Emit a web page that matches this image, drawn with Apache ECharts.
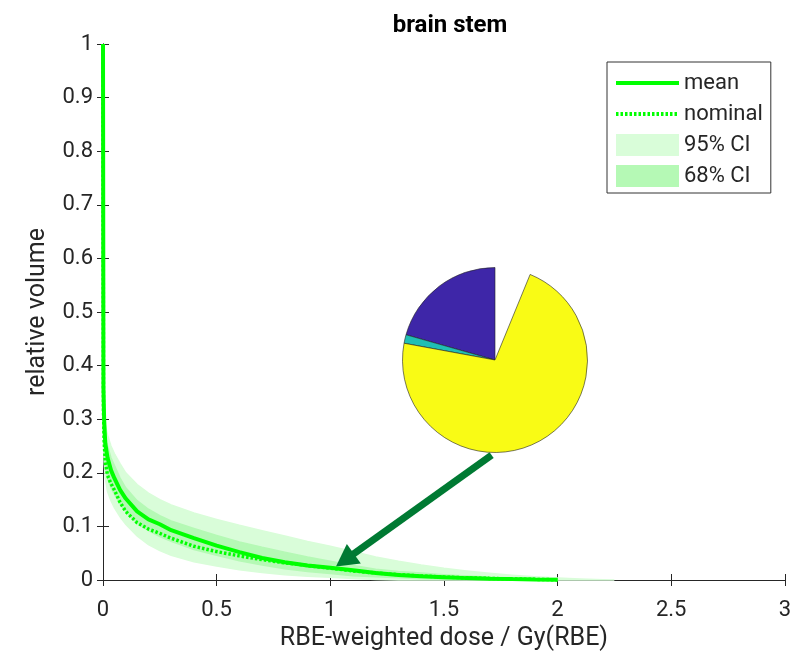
<!DOCTYPE html>
<html>
<head>
<meta charset="utf-8">
<script src="https://cdn.jsdelivr.net/npm/echarts@6/dist/echarts.min.js"></script>
<style>
  html, body { margin: 0; padding: 0; background: #fff; }
  #chart { width: 794px; height: 659px; }
</style>
</head>
<body>
<div id="chart"></div>
<script>
// Dose grid (Gy(RBE)) shared by all curves and bands
const dose = [0, 0.002, 0.005, 0.01, 0.02, 0.035, 0.05, 0.075, 0.1, 0.15, 0.2, 0.25, 0.3,
  0.4, 0.5, 0.6, 0.7, 0.8, 0.9, 1.0, 1.1, 1.2, 1.3, 1.4, 1.5, 1.6, 1.7, 1.8, 1.9, 2.0,
  2.1, 2.2, 2.25];

// Mean DVH (relative volume)
const meanDvh = [1.0, 0.36, 0.30, 0.255, 0.228, 0.205, 0.19, 0.168, 0.152, 0.128, 0.113, 0.104, 0.093,
  0.078, 0.064, 0.052, 0.041, 0.033, 0.027, 0.023, 0.018, 0.013, 0.0095, 0.007, 0.005, 0.0035, 0.0025,
  0.0017, 0.001, 0.0004, null, null, null];

// Nominal DVH
const nominalDvh = [1.0, 0.32, 0.26, 0.22, 0.195, 0.18, 0.168, 0.145, 0.128, 0.107, 0.095, 0.087, 0.078,
  0.063, 0.053, 0.045, 0.038, 0.032, 0.027, 0.022, 0.017, 0.013, 0.010, 0.0075, 0.0055, 0.004, 0.003,
  0.002, 0.0012, 0.0004, null, null, null];

// 95% confidence interval
const lo95 = [null, 0.26, 0.22, 0.19, 0.165, 0.148, 0.135, 0.118, 0.104, 0.082, 0.066, 0.055, 0.046,
  0.034, 0.026, 0.019, 0.014, 0.010, 0.007, 0.005, 0.003, 0.001, 0, 0, 0, 0, 0, 0, 0, 0, 0, 0, 0];
const hi95 = [null, 0.33, 0.31, 0.29, 0.27, 0.25, 0.236, 0.217, 0.2, 0.178, 0.162, 0.15, 0.14,
  0.125, 0.113, 0.102, 0.092, 0.082, 0.072, 0.063, 0.053, 0.043, 0.035, 0.028, 0.022, 0.017, 0.0125,
  0.0088, 0.006, 0.0038, 0.002, 0.0006, 0];

// 68% confidence interval
const lo68 = [null, 0.28, 0.24, 0.215, 0.19, 0.172, 0.16, 0.142, 0.128, 0.106, 0.092, 0.081, 0.072,
  0.057, 0.046, 0.036, 0.028, 0.021, 0.016, 0.012, 0.008, 0.006, 0.004, 0.0025, 0.0015, 0.001, 0.0005,
  0, 0, 0, null, null, null];
const hi68 = [null, 0.32, 0.295, 0.27, 0.25, 0.228, 0.214, 0.19, 0.172, 0.148, 0.132, 0.12, 0.11,
  0.096, 0.083, 0.071, 0.061, 0.052, 0.043, 0.035, 0.027, 0.020, 0.016, 0.013, 0.010, 0.0075, 0.0055,
  0.0035, 0.002, 0.0003, null, null, null];

// Inset pie: fractions of the structure per slice (remainder left open)
const pieNames = ['slice 1', 'slice 2', 'slice 3'];
const pieValues = [0.206, 0.015, 0.717];
const pieColors = ['#3e26a8', '#1fbfb4', '#f9fb15'];

// Axis ticks
const xTicks = { min: 0, max: 3, interval: 0.5 };
const yTicks = { min: 0, max: 1, interval: 0.1 };

// Annotation arrow (data coordinates): from the inset towards the curve
const arrowFrom = [1.71, 0.233];
const arrowTo = [1.025, 0.025];

const axisColor = '#262626';
const fontFamily = 'Roboto, "Noto Sans", sans-serif';

function bandRenderer(lo, hi, color) {
  return function (params, api) {
    if (params.dataIndex !== 0) return null;
    const upper = [], lower = [];
    for (let i = 0; i < dose.length; i++) {
      if (lo[i] == null || hi[i] == null) continue;
      upper.push(api.coord([dose[i], hi[i]]));
      lower.push(api.coord([dose[i], lo[i]]));
    }
    return {
      type: 'polygon',
      shape: { points: upper.concat(lower.reverse()) },
      style: { fill: color, stroke: color, lineWidth: 1.5 }
    };
  };
}

function arrowRenderer(params, api) {
  const p1 = api.coord(arrowFrom);
  const p2 = api.coord(arrowTo);
  const dx = p2[0] - p1[0], dy = p2[1] - p1[1];
  const len = Math.sqrt(dx * dx + dy * dy);
  const ux = dx / len, uy = dy / len;
  const headLen = 22, headHalf = 12;
  const bx = p2[0] - ux * headLen, by = p2[1] - uy * headLen;
  const color = '#007a33';
  return {
    type: 'group',
    children: [
      { type: 'line', shape: { x1: p1[0], y1: p1[1], x2: bx + ux * 2, y2: by + uy * 2 },
        style: { stroke: color, lineWidth: 7 } },
      { type: 'polygon',
        shape: { points: [[p2[0], p2[1]], [bx - uy * headHalf, by + ux * headHalf], [bx + uy * headHalf, by - ux * headHalf]] },
        style: { fill: color } }
    ]
  };
}

const chart = echarts.init(document.getElementById('chart'), null, { renderer: 'canvas' });

// Legend entries for lines: line only, no marker
const noMarker = { color: 'rgba(0,0,0,0)', borderWidth: 0, opacity: 0 };

const option = {
  animation: false,
  backgroundColor: '#ffffff',
  title: {
    text: 'brain stem',
    left: 445,
    top: 9,
    textAlign: 'center',
    textStyle: { fontFamily: fontFamily, fontSize: 24, fontWeight: 'bold', color: '#000' }
  },
  grid: { left: 103, right: 8, top: 44, bottom: 79, containLabel: false },
  legend: {
    orient: 'vertical',
    left: 607,
    top: 62,
    padding: [10, 8, 6, 7],
    itemGap: 9,
    itemWidth: 63,
    itemHeight: 22,
    backgroundColor: '#ffffff',
    borderColor: '#333333',
    borderWidth: 1,
    selectedMode: false,
    textStyle: { fontFamily: fontFamily, fontSize: 22, color: axisColor },
    data: [
      { name: 'mean', itemStyle: noMarker, lineStyle: { width: 4 } },
      { name: 'nominal', itemStyle: noMarker, lineStyle: { width: 4 } },
      { name: '95% CI', icon: 'rect' },
      { name: '68% CI', icon: 'rect' }
    ]
  },
  xAxis: [
    {
      type: 'value', min: xTicks.min, max: xTicks.max, interval: xTicks.interval,
      name: 'RBE-weighted dose / Gy(RBE)', nameLocation: 'middle', nameGap: 46,
      nameTextStyle: { fontFamily: fontFamily, fontSize: 25, color: axisColor },
      axisLine: { show: true, lineStyle: { color: axisColor, width: 1 } },
      axisTick: { show: true, inside: true, length: 6, lineStyle: { color: axisColor } },
      axisLabel: { margin: 19, fontFamily: fontFamily, fontSize: 22, color: axisColor },
      splitLine: { show: false }
    },
    {
      type: 'value', position: 'top', min: xTicks.min, max: xTicks.max, interval: xTicks.interval,
      axisLine: { show: true, lineStyle: { color: axisColor, width: 1 } },
      axisTick: { show: true, inside: true, length: 6, lineStyle: { color: axisColor } },
      axisLabel: { show: false }, splitLine: { show: false }
    }
  ],
  yAxis: [
    {
      type: 'value', min: yTicks.min, max: yTicks.max, interval: yTicks.interval,
      name: 'relative volume', nameLocation: 'middle', nameGap: 53,
      nameTextStyle: { fontFamily: fontFamily, fontSize: 25, color: axisColor },
      axisLine: { show: true, lineStyle: { color: axisColor, width: 1 } },
      axisTick: { show: true, inside: true, length: 6, lineStyle: { color: axisColor } },
      axisLabel: { margin: 10, fontFamily: fontFamily, fontSize: 22, color: axisColor },
      splitLine: { show: false }
    },
    {
      type: 'value', position: 'right', min: yTicks.min, max: yTicks.max, interval: yTicks.interval,
      axisLine: { show: true, lineStyle: { color: axisColor, width: 1 } },
      axisTick: { show: true, inside: true, length: 6, lineStyle: { color: axisColor } },
      axisLabel: { show: false }, splitLine: { show: false }
    }
  ],
  series: [
    {
      name: '95% CI', type: 'custom', silent: true,
      itemStyle: { color: '#d9fdd9' },
      renderItem: bandRenderer(lo95, hi95, '#d9fdd9'),
      encode: { x: 0, y: [1, 2] },
      data: dose.map((d, i) => [d, lo95[i], hi95[i]])
    },
    {
      name: '68% CI', type: 'custom', silent: true,
      itemStyle: { color: '#b5f9b5' },
      renderItem: bandRenderer(lo68, hi68, '#b5f9b5'),
      encode: { x: 0, y: [1, 2] },
      data: dose.map((d, i) => [d, lo68[i], hi68[i]])
    },
    {
      name: 'nominal', type: 'line', symbol: 'none', showSymbol: false, clip: false, silent: true,
      connectNulls: false,
      lineStyle: { color: '#00ff00', width: 3.5, type: [2.5, 2] },
      itemStyle: { color: '#00ff00' },
      data: dose.map((d, i) => [d, nominalDvh[i]])
    },
    {
      name: 'mean', type: 'line', symbol: 'none', showSymbol: false, clip: false, silent: true,
      connectNulls: false,
      lineStyle: { color: '#00ff00', width: 4 },
      itemStyle: { color: '#00ff00' },
      data: dose.map((d, i) => [d, meanDvh[i]])
    },
    {
      name: 'inset', type: 'pie', silent: true,
      center: [495, 360], radius: 92.5,
      startAngle: 90, clockwise: false,
      label: { show: false }, labelLine: { show: false },
      emphasis: { disabled: true },
      itemStyle: { borderColor: '#222222', borderWidth: 0.6 },
      data: pieValues.map((v, i) => ({ name: pieNames[i], value: v, itemStyle: { color: pieColors[i] } }))
        .concat([{
          name: 'rest', value: 1 - pieValues.reduce((a, b) => a + b, 0),
          itemStyle: { color: 'rgba(255,255,255,0)', borderWidth: 0 }
        }])
    },
    {
      name: 'arrow', type: 'custom', silent: true,
      renderItem: arrowRenderer,
      data: [[arrowTo[0], arrowTo[1]]]
    }
  ]
};

chart.setOption(option);
</script>
</body>
</html>
